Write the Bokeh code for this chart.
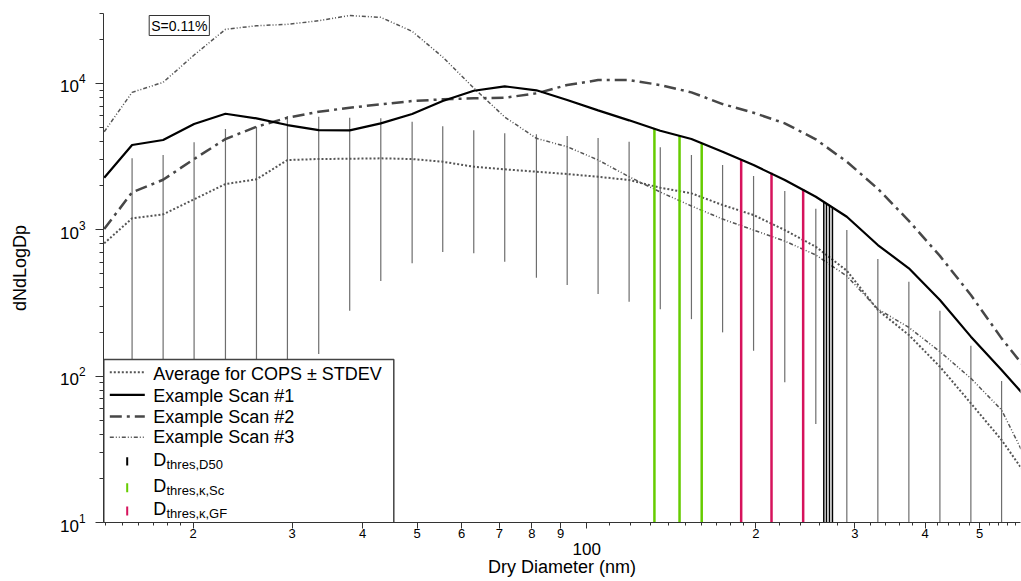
import numpy as np
from bokeh.plotting import figure
from bokeh.models import (Range1d, FixedTicker, CustomJSTickFormatter, Label, Title)
from bokeh.embed import file_html
from bokeh.resources import INLINE

FONT = "Liberation Sans"

# ---------------- data ----------------
diam = [13.9, 15.58, 17.69, 20.08, 22.83, 25.92, 29.42, 33.44, 37.96, 43.11,
        49.01, 55.55, 63.07, 71.59, 81.5, 92.44, 104.9, 119.1, 135.3, 153.7,
        174.6, 198.2, 225.2, 255.7, 290.3, 329.6, 374.2, 424.9, 482.3, 546.9,
        620.6]
avg_cops = [807, 1196, 1274, 1613, 2052, 2210, 2994, 3041, 3055, 3074,
            3041, 2914, 2694, 2586, 2490, 2402, 2301, 2185, 1936, 1773,
            1475, 1260, 995, 765, 525, 283, 191, 116, 65.2, 36.6, 18.3]
scan1 = [2266, 3790, 4100, 5272, 6199, 5767, 5190, 4797, 4775, 5331,
         6170, 7569, 8903, 9539, 8960, 7690, 6539, 5589, 4744, 4164,
         3410, 2766, 2185, 1680, 1227, 786, 545, 331, 186, 110, 63.9]
scan2 = [1011, 1801, 2195, 3041, 4164, 5053, 5821, 6397, 6813, 7187,
         7569, 7774, 7898, 7973, 8544, 9736, 10530, 10530, 9736, 8680,
         7220, 6298, 5331, 4145, 2914, 1905, 1150, 663, 358, 181, 98.6]
scan3 = [4670, 8680, 10160, 15610, 23380, 24740, 25290, 26770, 29050, 28230,
         22660, 15120, 9290, 5886, 4210, 3689, 2994, 2301, 1809, 1452,
         1183, 995, 837, 672, 483, 287, 215, 147, 96.6, 58.7, 22.1]

err_diam = [15.58, 17.69, 20.08, 22.83, 25.92, 29.42, 33.44, 37.96, 43.11,
            49.01, 55.55, 63.07, 71.59, 81.5, 92.44, 104.9, 119.1, 135.3,
            153.7, 174.6, 198.2, 225.2, 255.7, 290.3, 329.6, 374.2, 424.9,
            482.3, 546.9]
err_hi = [3074, 3238, 3954, 4874, 5053, 5979, 5914, 5821, 5767, 5467,
          5085, 4775, 4555, 4483, 4365, 4230, 3991, 3654, 3238, 2766,
          2327, 1838, 1391, 995, 631, 441, 280, 161, 92.6]
err_lo = [1, 1, 1, 1, 1, 1, 141.6, 280, 446, 590,
          704, 690, 605, 470, 419, 364, 322, 286, 245, 199,
          149, 90.7, 47.1, 1, 1, 1, 1, 1, 1]

d50_diam = [264.2, 267.1, 270.4, 273.7]
d50_top = [1553, 1514, 1459, 1422]
ksc_diam = [132.1, 146.4, 160.3]
ksc_top = [4927, 4365, 3893]
kgf_diam = [188.4, 213.3, 242.8]
kgf_top = [3027, 2451, 1897]
thres_bottom = 1

x_major = [20, 30, 40, 50, 60, 70, 80, 90, 100, 200, 300, 400, 500]
x_major_labels = ["2", "3", "4", "5", "6", "7", "8", "9", "", "2", "3", "4", "5"]
x_minor = [14, 15, 16, 17, 18, 19,
           110, 120, 130, 140, 150, 160, 170, 180, 190,
           220, 240, 260, 280,
           320, 340, 360, 380,
           420, 440, 460, 480,
           520, 540, 560, 580]
y_major = [10, 100, 1000, 10000]
y_minor = [20, 30, 40, 50, 60, 70, 80, 90,
           200, 300, 400, 500, 600, 700, 800, 900,
           2000, 3000, 4000, 5000, 6000, 7000, 8000, 9000,
           20000, 30000]

line_labels = ["Average for COPS \u00b1 STDEV", "Example Scan #1",
               "Example Scan #2", "Example Scan #3"]
thres_subs = ["thres,D50", "thres,\u03ba,Sc", "thres,\u03ba,GF"]
thres_colors = ["black", "#66cc00", "#d6135c"]

x_lo, x_hi = 13.86, 590.9
y_lo, y_hi = 10, 30000

# ---------------- figure ----------------
FR_L, FR_T, FR_W, FR_H = 103, 13, 917, 509
p = figure(width=1021, height=581, x_axis_type="log", y_axis_type="log",
           x_range=Range1d(x_lo, x_hi), y_range=Range1d(y_lo, y_hi),
           output_backend="svg", toolbar_location=None,
           min_border_left=FR_L, min_border_right=1, min_border_top=FR_T,
           min_border_bottom=581 - FR_T - FR_H)
p.outline_line_color = None
p.grid.visible = False
p.background_fill_color = "white"


def px2x(px):
    return float(10 ** (np.log10(x_lo) + (px - FR_L) / FR_W * np.log10(x_hi / x_lo)))


def py2y(py):
    return float(10 ** (np.log10(y_lo) + (FR_T + FR_H - py) / FR_H * np.log10(y_hi / y_lo)))


STY_AVG = dict(line_color="#555555", line_width=2, line_dash="2 2")
STY_S1 = dict(line_color="black", line_width=2.2)
STY_S2 = dict(line_color="#474747", line_width=2.5, line_dash="12 5 3 5")
STY_S3 = dict(line_color="#555555", line_width=1.5, line_dash="4 2 1 2 1 2")

# error bars
p.segment(x0=err_diam, y0=err_lo, x1=err_diam, y1=err_hi,
          line_color="#6e6e6e", line_width=1.2)

p.line(diam, avg_cops, **STY_AVG)
p.line(diam, scan2, **STY_S2)
p.line(diam, scan3, **STY_S3)

# threshold lines
p.segment(x0=ksc_diam, y0=[thres_bottom] * len(ksc_diam), x1=ksc_diam, y1=ksc_top,
          line_color=thres_colors[1], line_width=2.5)
p.segment(x0=kgf_diam, y0=[thres_bottom] * len(kgf_diam), x1=kgf_diam, y1=kgf_top,
          line_color=thres_colors[2], line_width=2.5)
p.segment(x0=d50_diam, y0=[thres_bottom] * len(d50_diam), x1=d50_diam, y1=d50_top,
          line_color=thres_colors[0], line_width=1.5)

p.line(diam, scan1, **STY_S1)

# ---------------- axes ----------------
xa = p.xaxis[0]
xa.ticker = FixedTicker(ticks=x_major, minor_ticks=x_minor)
xa.formatter = CustomJSTickFormatter(
    args=dict(tick_vals=x_major, tick_labels=x_major_labels),
    code="""
      for (let i = 0; i < tick_vals.length; i++) {
        if (Math.abs(tick_vals[i] - tick) < 1e-6 * tick_vals[i]) return tick_labels[i];
      }
      return "";
    """)
xa.major_tick_out = 6
xa.major_tick_in = 0
xa.minor_tick_out = 3
xa.minor_tick_in = 0
xa.major_label_text_font = FONT
xa.major_label_text_font_size = "13px"
xa.major_label_standoff = 0

ya = p.yaxis[0]
ya.ticker = FixedTicker(ticks=y_major, minor_ticks=y_minor)
ya.major_tick_out = 8
ya.major_tick_in = 0
ya.minor_tick_out = 4
ya.minor_tick_in = 0
ya.major_label_text_font = FONT
ya.major_label_text_font_size = "17px"
ya.major_label_standoff = 10
ya.axis_label = "dNdLogDp"
ya.axis_label_text_font = FONT
ya.axis_label_text_font_size = "18px"
ya.axis_label_text_font_style = "normal"
ya.axis_label_standoff = 27

for ax in (xa, ya):
    ax.axis_line_color = "#333333"
    ax.major_tick_line_color = "#333333"
    ax.minor_tick_line_color = "#333333"
    ax.major_label_text_color = "black"
    ax.axis_label_text_color = "black"

# decade label "100" and the x axis title, stacked below the axis
p.add_layout(Title(text="100", align="left", offset=469, standoff=0,
                   text_font=FONT, text_font_size="17px",
                   text_font_style="normal", text_color="black"), "below")
p.add_layout(Title(text="Dry Diameter (nm)", align="center", standoff=0,
                   text_font=FONT, text_font_size="18px",
                   text_font_style="normal", text_color="black"), "below")

# S=0.11% box
p.add_layout(Label(x=16.71, y=y_hi, y_offset=-2, text="S=0.11%", text_align="left",
                   text_baseline="top", text_font=FONT, text_font_size="14px",
                   text_color="black", border_line_color="#333333",
                   border_line_width=1, background_fill_color="white",
                   padding=2))

# ---------------- legend (drawn in the plot, pixel layout) ----------------
p.quad(left=px2x(103.3), right=px2x(393.3), top=py2y(359), bottom=py2y(526.7),
       fill_color="white", line_color="#444444", line_width=1.5)

row_line_y = [371.7, 394.3, 416, 436.7]
row_text_mid = [373.3, 395, 416.7, 436.7]
for sty, ly, tm, lab in zip([STY_AVG, STY_S1, STY_S2, STY_S3], row_line_y,
                            row_text_mid, line_labels):
    p.line(x=[px2x(109.3), px2x(144.3)], y=[py2y(ly), py2y(ly)], **sty)
    p.add_layout(Label(x=px2x(152.7), y=py2y(tm), text=lab, text_align="left",
                       text_baseline="middle", text_font=FONT,
                       text_font_size="18px", text_color="black"))

d_mid = [459.2, 485.5, 508.8]
sub_mid = [463.8, 490, 512.5]
bar_top = [456.7, 482.7, 506]
bar_bot = [465, 491.7, 515]
p.segment(x0=[px2x(126.7)] * 3, x1=[px2x(126.7)] * 3,
          y0=[py2y(v) for v in bar_bot], y1=[py2y(v) for v in bar_top],
          line_color=thres_colors, line_width=2)
for dm, sm, s in zip(d_mid, sub_mid, thres_subs):
    p.add_layout(Label(x=px2x(152.7), y=py2y(dm), text="D", text_align="left",
                       text_baseline="middle", text_font=FONT,
                       text_font_size="18px", text_color="black"))
    p.add_layout(Label(x=px2x(166), y=py2y(sm), text=s, text_align="left",
                       text_baseline="middle", text_font=FONT,
                       text_font_size="13px", text_color="black"))

open("out.html", "w").write(file_html(p, INLINE))
